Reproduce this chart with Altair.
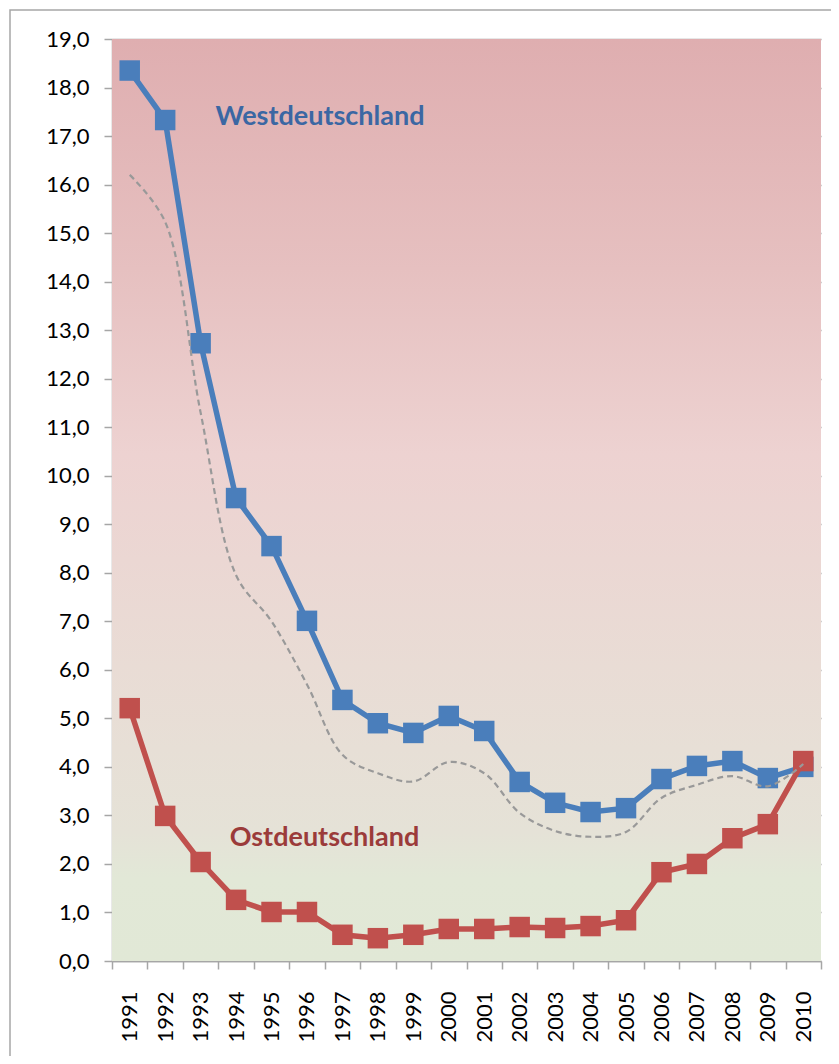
import altair as alt
import pandas as pd

years = [str(y) for y in range(1991, 2011)]
west = [18.35, 17.33, 12.73, 9.54, 8.55, 7.01, 5.38, 4.90, 4.70, 5.05,
        4.74, 3.69, 3.26, 3.07, 3.15, 3.75, 4.02, 4.12, 3.77, 4.00]
east = [5.21, 2.99, 2.04, 1.26, 1.01, 1.01, 0.54, 0.47, 0.54, 0.66,
        0.66, 0.70, 0.68, 0.72, 0.84, 1.83, 2.00, 2.53, 2.82, 4.12]
total = [16.2, 15.23, 11.3, 7.95, 7.0, 5.7, 4.25, 3.87, 3.7, 4.1,
         3.87, 3.05, 2.68, 2.56, 2.66, 3.36, 3.63, 3.81, 3.6, 4.06]
y_ticks = list(range(0, 20))

label_names = ["Westdeutschland", "Ostdeutschland"]
label_years = ["1996", "1997"]
label_values = [17.39, 2.53]
label_colors = ["#3b67a3", "#9b3b3a"]

W, H = 709, 922
FONT = "Lato"

df = pd.DataFrame({"year": years, "west": west, "east": east, "total": total})
lab = pd.DataFrame({"name": label_names, "year": label_years, "v": label_values})

xscale = alt.Scale(type="band", domain=years, paddingInner=0, paddingOuter=0)
yscale = alt.Scale(domain=[0, 19], nice=False, zero=True)

xaxis = alt.Axis(title=None, tickBand="extent", labelAngle=270, labelFont=FONT,
                 labelFontSize=22, labelColor="#000000", domainColor="#a6a6a6",
                 domainWidth=1.5, tickColor="#a6a6a6", tickWidth=1.5, tickSize=8,
                 labelPadding=22, grid=False)
yaxis = alt.Axis(title=None, values=y_ticks,
                 labelExpr="replace(format(datum.value, '.1f'), '.', ',')",
                 labelFont=FONT, labelFontSize=22, labelColor="#000000",
                 domainColor="#a6a6a6", domainWidth=1.5, tickColor="#a6a6a6",
                 tickWidth=1.5, tickSize=8, labelPadding=15,
                 grid=True, gridColor="#a0a0a0", gridWidth=1.5)

one = alt.Data(values=[{}])

frame = alt.Chart(one).mark_rect(fillOpacity=0, stroke="#a6a6a6", strokeWidth=1.5).encode(
    x=alt.value(-102), x2=alt.value(W + 40), y=alt.value(-29), y2=alt.value(H + 200)
)

bg = alt.Chart(one).mark_rect(
    fill=alt.Gradient(
        gradient="linear", x1=0, y1=0, x2=0, y2=1,
        stops=[
            alt.GradientStop(color="#dfaeb0", offset=0),
            alt.GradientStop(color="#e6c0c0", offset=0.25),
            alt.GradientStop(color="#edd2d1", offset=0.45),
            alt.GradientStop(color="#e9dcd5", offset=0.68),
            alt.GradientStop(color="#e5e2d7", offset=0.86),
            alt.GradientStop(color="#e2e8d7", offset=0.91),
            alt.GradientStop(color="#e1e8d6", offset=1),
        ],
    )
).encode(x=alt.value(0), x2=alt.value(W), y=alt.value(0), y2=alt.value(H))

base = alt.Chart(df)
X = alt.X("year:O", scale=xscale, axis=xaxis, bandPosition=0.5)


def Y(field):
    return alt.Y(field, scale=yscale, axis=yaxis)


west_line = base.mark_line(color="#4a7ebb", strokeWidth=5.5).encode(x=X, y=Y("west:Q"))
west_pts = base.mark_square(color="#4a7ebb", size=420, opacity=1).encode(x=X, y=Y("west:Q"))
east_line = base.mark_line(color="#c0504d", strokeWidth=5.5).encode(x=X, y=Y("east:Q"))
east_pts = base.mark_square(color="#c0504d", size=420, opacity=1).encode(x=X, y=Y("east:Q"))
total_line = base.mark_line(color="#999999", strokeWidth=2.2, strokeDash=[6, 4],
                            interpolate="catmull-rom").encode(x=X, y=Y("total:Q"))

west_text = alt.Chart(lab).transform_filter(alt.datum.name == "Westdeutschland").mark_text(
    font=FONT, fontSize=27, fontWeight="bold", color=label_colors[0], dx=13, baseline="middle"
).encode(x=X, y=Y("v:Q"), text="name:N")
east_text = alt.Chart(lab).transform_filter(alt.datum.name == "Ostdeutschland").mark_text(
    font=FONT, fontSize=27, fontWeight="bold", color=label_colors[1], dx=-18, baseline="middle"
).encode(x=X, y=Y("v:Q"), text="name:N")

chart = alt.layer(
    frame, bg, west_line, west_pts, east_line, east_pts, total_line,
    west_text, east_text
).properties(
    width=W, height=H,
    autosize=alt.AutoSizeParams(type="none"),
    padding={"left": 104, "top": 31, "right": 10, "bottom": 95},
    background="#ffffff",
).configure_view(stroke=None)

chart.save("out.html", embed_options={"renderer": "svg", "actions": False})
